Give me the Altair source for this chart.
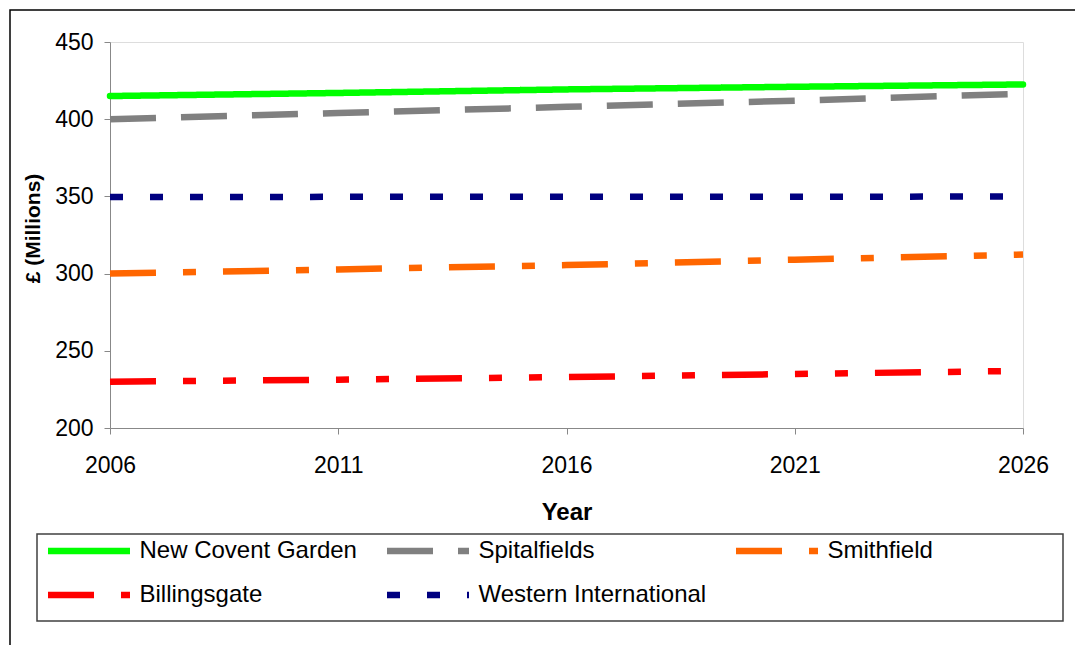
import altair as alt
import pandas as pd

years = [2006, 2011, 2016, 2021, 2026]
series_names = ["New Covent Garden", "Spitalfields", "Smithfield", "Billingsgate", "Western International"]
new_covent_garden = [415.0, 417.0, 419.3, 421.0, 422.5]
spitalfields = [400.0, 404.0, 408.0, 412.0, 416.5]
smithfield = [300.0, 302.7, 305.5, 309.0, 312.3]
billingsgate = [230.0, 231.3, 233.0, 235.0, 237.0]
western_international = [349.6, 349.7, 349.8, 349.8, 349.9]

series_values = [new_covent_garden, spitalfields, smithfield, billingsgate, western_international]
colors = ["#00FF00", "#808080", "#FF6600", "#FF0000", "#000080"]
dashes = [[1, 0], [46, 25], [46, 27, 13, 27], [46, 27, 13, 27, 13, 27], [13, 27]]

rows = []
for name, vals in zip(series_names, series_values):
    for yr, v in zip(years, vals):
        rows.append({"Year": yr, "Series": name, "Value": v})
df = pd.DataFrame(rows)

FONT = "Liberation Sans"

x_enc = alt.X("Year:Q",
              scale=alt.Scale(domain=[2006, 2026], nice=False, zero=False),
              axis=alt.Axis(values=years, format="d", title="Year", grid=False,
                            labelFontSize=23, labelBaseline="alphabetic", labelPadding=38,
                            titleFontSize=24, titleFontWeight="bold",
                            titleX=456.5, titleY=91, titleBaseline="alphabetic",
                            tickSize=6, labelFlush=False))
y_enc = alt.Y("Value:Q",
              scale=alt.Scale(domain=[200, 450], nice=False, zero=False),
              axis=alt.Axis(values=[200, 250, 300, 350, 400, 450], title="£ (Millions)", grid=False,
                            labelFontSize=23, labelPadding=11, tickSize=6,
                            titleFontSize=21, titleFontWeight="bold",
                            titleX=-77, titleY=186, titleAngle=270,
                            titleAlign="center", titleBaseline="middle"))
legend = alt.Legend(title=None, orient="none", legendX=-65.5, legendY=497, direction="horizontal",
                    columns=3, symbolType="stroke", symbolSize=6724, symbolStrokeWidth=6.5,
                    labelFontSize=24, labelOffset=6, clipHeight=24, rowPadding=20,
                    columnPadding=26, padding=0, symbolOffset=0, labelLimit=400)
color_enc = alt.Color("Series:N", scale=alt.Scale(domain=series_names, range=colors), legend=legend)
dash_enc = alt.StrokeDash("Series:N", scale=alt.Scale(domain=series_names, range=dashes), legend=legend)

base = alt.Chart(df)
solid = base.mark_line(strokeWidth=6.5, strokeCap="round").encode(
    x=x_enc, y=y_enc, color=color_enc, strokeDash=dash_enc
).transform_filter(alt.datum.Series == "New Covent Garden")
dashed = base.mark_line(strokeWidth=6.5, strokeCap="butt").encode(
    x=x_enc, y=y_enc, color=color_enc, strokeDash=dash_enc
).transform_filter(alt.datum.Series != "New Covent Garden")

one = pd.DataFrame({"k": [0]})
outer = alt.Chart(one).mark_rect(fillOpacity=0, stroke="#000000", strokeWidth=1.5).encode(
    x=alt.value(-100), x2=alt.value(1300), y=alt.value(-32), y2=alt.value(900))
legend_box = alt.Chart(one).mark_rect(fillOpacity=0, stroke="#404040", strokeWidth=1.5).encode(
    x=alt.value(-73), x2=alt.value(953), y=alt.value(492), y2=alt.value(579))

chart = alt.layer(outer, legend_box, solid, dashed).properties(
    width=913, height=386,
    autosize=alt.AutoSizeParams(type="none"),
    padding={"left": 110, "top": 42, "right": 52, "bottom": 217},
).configure_view(stroke=None).configure_axis(
    domainColor="#808080", tickColor="#404040", labelColor="#000000", titleColor="#000000",
    labelFont=FONT, titleFont=FONT
).configure_legend(labelFont=FONT, labelColor="#000000").configure(background="#FFFFFF")

chart.save("out.html", embed_options={"renderer": "svg", "actions": False})
